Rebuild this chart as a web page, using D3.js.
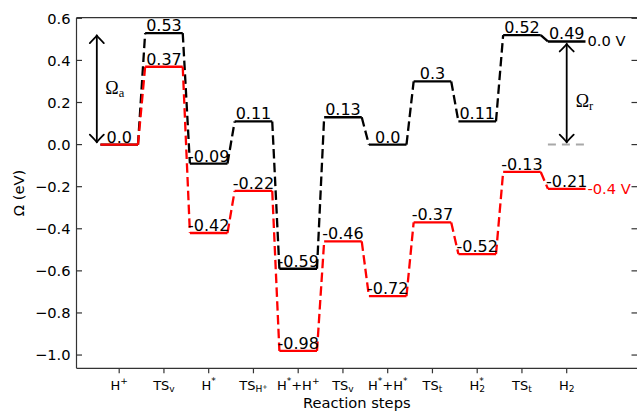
<!DOCTYPE html>
<html><head><meta charset="utf-8">
<script src="https://cdn.jsdelivr.net/npm/d3@7"></script>
<style>body{margin:0;background:#fff}svg{display:block}</style>
</head><body>
<svg id="c" width="637" height="416"></svg>
<script>
// ---- data ----
const steps = ["H^{+}","TS_{v}","H^{*}","TS_{H^{+}}","H^{*}+H^{+}","TS_{v}","H^{*}+H^{*}","TS_{t}","H_{2}^{*}","TS_{t}","H_{2}"];
const omega0V   = [0.0, 0.53, -0.09, 0.11, -0.59, 0.13, 0.0, 0.3, 0.11, 0.52, 0.49];
const omegaM04V = [0.0, 0.37, -0.42, -0.22, -0.98, -0.46, -0.72, -0.37, -0.52, -0.13, -0.21];
const yTicks = [-1.0, -0.8, -0.6, -0.4, -0.2, 0.0, 0.2, 0.4, 0.6];
const seriesNames = ["0.0 V", "-0.4 V"];
const seriesColors = ["#000000", "#ff0000"];
const refLevel = 0.0;          // Ω reference drawn grey at last step
const xTitle = "Reaction steps";
const yTitle = "Ω (eV)";

// ---- layout ----
const svg = d3.select("#c");
const L = 76.5, R = 637, T = 17.7, B = 368.3;
const x = d3.scaleLinear().domain([-0.954, 11.571]).range([L, R]);
const y = d3.scaleLinear().domain([-1.063, 0.603]).range([B, T]);
const hw = 0.42;
const SANS = "DejaVu Sans";

const fmtVal = v => (v === 0 ? "0.0" : String(v));

// spines
const ax = svg.append("g").attr("stroke", "#333").attr("stroke-width", 1.2).attr("fill", "none");
ax.append("line").attr("x1", L).attr("x2", L).attr("y1", T).attr("y2", B);
ax.append("line").attr("x1", L).attr("x2", R).attr("y1", B).attr("y2", B);
ax.append("line").attr("x1", L).attr("x2", R).attr("y1", T).attr("y2", T);

// y ticks (inward, both sides)
yTicks.forEach(t => {
  ax.append("line").attr("x1", L).attr("x2", L + 5.5).attr("y1", y(t)).attr("y2", y(t));
  ax.append("line").attr("x1", R - 5.5).attr("x2", R).attr("y1", y(t)).attr("y2", y(t));
  svg.append("text").attr("x", 70.5).attr("y", y(t) + 5.3)
    .attr("text-anchor", "end").attr("font-family", SANS).attr("font-size", 14.67)
    .text(d3.format(".1f")(t).replace("-", "\u2212"));
});

// x ticks (outward)
function parseMath(s) {
  const out = [];
  function rec(str, shift, scale) {
    let i = 0, buf = "", lastSub = null;
    const flush = () => { if (buf) { out.push({ t: buf, shift, scale }); buf = ""; lastSub = null; } };
    while (i < str.length) {
      const c = str[i];
      if (c === "^" || c === "_") {
        flush();
        i++;
        let grp;
        if (str[i] === "{") {
          let d = 1, j = i + 1;
          while (d > 0) { if (str[j] === "{") d++; else if (str[j] === "}") d--; j++; }
          grp = str.slice(i + 1, j - 1); i = j;
        } else { grp = str[i]; i++; }
        const sub = c === "_";
        const start = out.length;
        rec(grp, shift + (sub ? 0.22 : -0.40) * scale, scale * 0.7);
        if (!sub && lastSub) {
          out[start].back = lastSub;
          lastSub = null;
        } else if (sub) {
          lastSub = grp.length * 0.636 * scale * 0.7;
        } else lastSub = null;
      } else { buf += c; i++; }
    }
    flush();
  }
  rec(s, 0, 1);
  return out;
}
function mathText(g, str, cx, cy, base) {
  const t = g.append("text").attr("x", cx).attr("y", cy).attr("text-anchor", "middle")
    .attr("font-family", SANS).attr("font-size", base);
  let prev = 0;
  parseMath(str).forEach(seg => {
    const ts = t.append("tspan").attr("font-size", base * seg.scale)
      .attr("dy", (seg.shift - prev) * base).text(seg.t);
    if (seg.back) ts.attr("dx", -seg.back * base);
    prev = seg.shift;
  });
  return t;
}
steps.forEach((s, i) => {
  ax.append("line").attr("x1", x(i)).attr("x2", x(i)).attr("y1", B).attr("y2", B + 5);
  mathText(svg, s, x(i), 389.5, 13);
});

// axis titles
svg.append("text").attr("x", (L + R) / 2).attr("y", 408).attr("text-anchor", "middle")
  .attr("font-family", SANS).attr("font-size", 14.67).text(xTitle);
svg.append("text").attr("transform", `translate(24,${(T + B) / 2}) rotate(-90)`)
  .attr("text-anchor", "middle").attr("font-family", SANS).attr("font-size", 14.67).text(yTitle);

// grey reference level at the final step
const last = steps.length - 1;
svg.append("line").attr("x1", x(last - hw)).attr("x2", x(last + hw))
  .attr("y1", y(refLevel)).attr("y2", y(refLevel))
  .attr("stroke", "#a8a8a8").attr("stroke-width", 2).attr("stroke-dasharray", "8,6");

// energy profiles
const drawnLabels = new Set();
function profile(vals, color) {
  const g = svg.append("g");
  for (let i = 0; i < vals.length - 1; i++) {
    g.append("line").attr("x1", x(i + hw)).attr("y1", y(vals[i]))
      .attr("x2", x(i + 1 - hw)).attr("y2", y(vals[i + 1]))
      .attr("stroke", color).attr("stroke-width", 2.3).attr("stroke-dasharray", "9.5,4.3");
  }
  vals.forEach((v, i) => {
    g.append("line").attr("x1", x(i - hw)).attr("x2", x(i + hw)).attr("y1", y(v)).attr("y2", y(v))
      .attr("stroke", color).attr("stroke-width", 2.3);
  });
  vals.forEach((v, i) => {
    const key = i + ":" + v;
    if (drawnLabels.has(key)) return;
    drawnLabels.add(key);
    g.append("text").attr("x", x(i)).attr("y", y(v) - 2).attr("text-anchor", "middle")
      .attr("font-family", SANS).attr("font-size", 16).attr("fill", "#000").text(fmtVal(v));
  });
}
profile(omega0V, seriesColors[0]);
profile(omegaM04V, seriesColors[1]);

// series end labels
[omega0V, omegaM04V].forEach((vals, k) => {
  svg.append("text").attr("x", x(last + hw) + 2).attr("y", y(vals[last]) + 5)
    .attr("font-family", SANS).attr("font-size", 14.67).attr("fill", seriesColors[k]).text(seriesNames[k]);
});

// double-headed arrows
function arrow(xv, v1, v2) {
  const xp = x(xv), ya = y(v1), yb = y(v2);
  const dir = yb > ya ? 1 : -1, sh = 2.5, hl = 7.5, hwid = 7;
  const y1 = ya + dir * sh, y2 = yb - dir * sh;
  const g = svg.append("g").attr("stroke", "#000").attr("stroke-width", 1.8).attr("fill", "none")
    .attr("stroke-linecap", "round");
  g.append("line").attr("x1", xp).attr("x2", xp).attr("y1", y1).attr("y2", y2);
  g.append("path").attr("d", `M${xp - hwid},${y1 + dir * hl}Q${xp - 2},${y1 + dir * 2.5} ${xp},${y1}Q${xp + 2},${y1 + dir * 2.5} ${xp + hwid},${y1 + dir * hl}`);
  g.append("path").attr("d", `M${xp - hwid},${y2 - dir * hl}Q${xp - 2},${y2 - dir * 2.5} ${xp},${y2}Q${xp + 2},${y2 - dir * 2.5} ${xp + hwid},${y2 - dir * hl}`);
}
arrow(-0.5, omega0V[0], omega0V[1]);
arrow(last, omega0V[last], refLevel);

function omegaLabel(px, py, sub) {
  const t = svg.append("text").attr("x", px).attr("y", py)
    .attr("font-family", "Liberation Serif").attr("font-size", 18);
  t.append("tspan").text("Ω");
  t.append("tspan").attr("font-size", 12.5).attr("dy", 3).text(sub);
}
omegaLabel(x(-0.5) + 8.5, y(0.24), "a");
omegaLabel(x(last) + 9, y(0.18), "r");
</script>
</body></html>
